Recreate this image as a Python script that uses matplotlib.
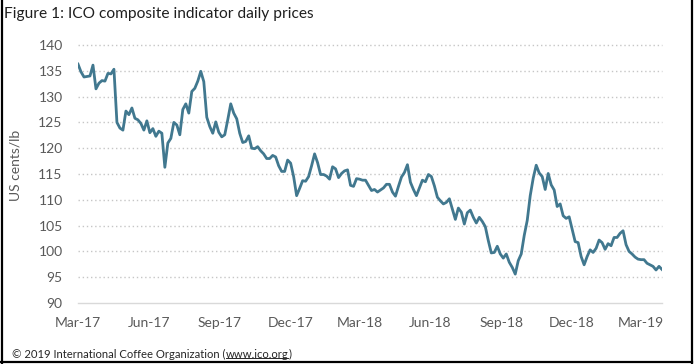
import matplotlib
matplotlib.use("Agg")
import matplotlib.pyplot as plt
import matplotlib.dates as mdates
from matplotlib.lines import Line2D
import pandas as pd

start_date = "2017-03-01"
end_date = "2019-03-28"
prices = [
    136.3, 134.8, 133.8, 133.9, 134.0, 136.1, 131.5, 132.6, 133.1, 133.0,
    134.5, 134.4, 135.3, 125.0, 123.9, 123.5, 127.2, 126.5, 127.8, 125.8,
    125.5, 124.8, 123.5, 125.3, 123.0, 123.8, 122.3, 123.3, 122.9, 116.3,
    121.0, 121.9, 125.0, 124.5, 122.6, 127.5, 128.6, 126.8, 131.0, 131.6,
    133.0, 134.9, 132.9, 126.0, 124.2, 122.9, 125.1, 123.1, 122.2, 122.6,
    125.5, 128.6, 126.8, 125.7, 122.9, 121.1, 121.3, 122.4, 120.0, 119.9,
    120.3, 119.5, 118.9, 118.0, 118.0, 118.6, 118.3, 116.6, 115.5, 115.5,
    117.7, 117.1, 114.5, 110.8, 112.2, 113.7, 113.6, 114.5,
    116.6, 118.9, 117.2, 114.9, 114.9, 114.6, 114.0, 116.4, 116.0, 114.3,
    115.1, 115.6, 115.8, 112.8, 112.6, 114.1, 114.0, 113.8, 113.8, 112.8,
    111.8, 112.0, 111.5, 111.9, 112.3, 113.0, 113.0, 111.5, 110.7, 112.6,
    114.4, 115.3, 116.8, 113.4, 112.0, 110.8, 112.3, 113.8, 113.5, 114.9,
    114.5, 112.7, 110.5, 109.8, 109.2, 109.5, 110.2, 108.2, 106.2, 108.4,
    107.6, 105.3, 107.5, 108.0, 106.6, 105.5, 106.6, 105.8, 104.8, 102.1,
    99.7, 99.8, 101.0, 99.5, 98.7, 99.5, 97.9, 96.9, 95.6, 98.2,
    99.5, 103.1, 106.0, 110.8, 114.2, 116.7, 115.2,
    114.5, 112.0, 115.1, 112.9, 111.9, 108.7, 109.2, 106.9, 106.4, 106.7,
    104.3, 101.9, 101.7, 99.0, 97.4, 99.0, 100.3, 99.8, 100.6, 102.2,
    101.7, 100.4, 101.5, 101.1, 102.7, 102.7, 103.5, 104.0, 101.3, 100.0,
    99.5, 98.9, 98.5, 98.4, 98.4, 97.7, 97.4, 97.1, 96.4, 97.1, 96.5,
]
dates = pd.date_range(start_date, end_date, periods=len(prices))
y_ticks = [90, 95, 100, 105, 110, 115, 120, 125, 130, 135, 140]

title = "Figure 1: ICO composite indicator daily prices"
y_label = "US cents/lb"
footer_pre = "\u00a9 2019 International Coffee Organization ("
footer_link = "www.ico.org"
footer_post = ")"

FONT = "Lato"
W, H = 695, 364
fig = plt.figure(figsize=(W / 100, H / 100), dpi=100)
fig.patch.set_facecolor("white")

ax = fig.add_axes([78 / W, 1 - 303 / H, (662 - 78) / W, (303 - 45) / H])
ax.plot(dates, prices, color="#41788f", lw=2.0, solid_joinstyle="round")

ax.set_xlim(pd.Timestamp(start_date), pd.Timestamp(end_date))
ax.set_ylim(90, 140)
ax.set_yticks(y_ticks)
ax.xaxis.set_major_locator(mdates.MonthLocator(bymonth=[3, 6, 9, 12]))
ax.xaxis.set_major_formatter(mdates.DateFormatter("%b-%y"))

for s in ["top", "right", "left"]:
    ax.spines[s].set_visible(False)
ax.spines["bottom"].set_color("#d9d9d9")
ax.spines["bottom"].set_linewidth(1.0)

for yv in y_ticks[1:]:
    ax.axhline(yv, color="#c6c6c6", lw=1.0, linestyle=(0, (1, 2)), zorder=0, clip_on=False)

ax.tick_params(axis="both", length=0, labelsize=10, labelcolor="#595959")
ax.tick_params(axis="y", pad=11)
ax.tick_params(axis="x", pad=10)
for lab in ax.get_xticklabels() + ax.get_yticklabels():
    lab.set_fontfamily(FONT)

fig.text(15 / W, 1 - 165 / H, y_label, rotation=90, ha="center", va="center",
         fontsize=10, color="#595959", family=FONT)

fig.text(4 / W, 1 - 14 / H, title, ha="left", va="center", fontsize=11.2,
         color="#1f1f1f", family=FONT)

# footer with underlined link
fig.canvas.draw()
r = fig.canvas.get_renderer()
fy = 1 - 354 / H
FS = 8.1
t1 = fig.text(12 / W, fy, footer_pre, ha="left", va="center", fontsize=FS,
              color="#262626", family=FONT)
bb1 = t1.get_window_extent(r)
t2 = fig.text(bb1.x1 / W, fy, footer_link, ha="left", va="center", fontsize=FS,
              color="#262626", family=FONT)
bb2 = t2.get_window_extent(r)
fig.text(bb2.x1 / W, fy, footer_post, ha="left", va="center", fontsize=FS,
         color="#262626", family=FONT)
uy = (bb2.y0 + 1.5) / H
fig.add_artist(Line2D([bb2.x0 / W, bb2.x1 / W], [uy, uy], color="#262626", lw=0.7))

# outer black frame (left, right, bottom)
frame_kw = dict(color="black", lw=1.6)
fig.add_artist(Line2D([1.5 / W, 1.5 / W], [0, 1], **frame_kw))
fig.add_artist(Line2D([692 / W, 692 / W], [0, 1], **frame_kw))
fig.add_artist(Line2D([0, 692 / W], [1 - 361.5 / H, 1 - 361.5 / H], **frame_kw))

fig.savefig("out.png", dpi=100)
